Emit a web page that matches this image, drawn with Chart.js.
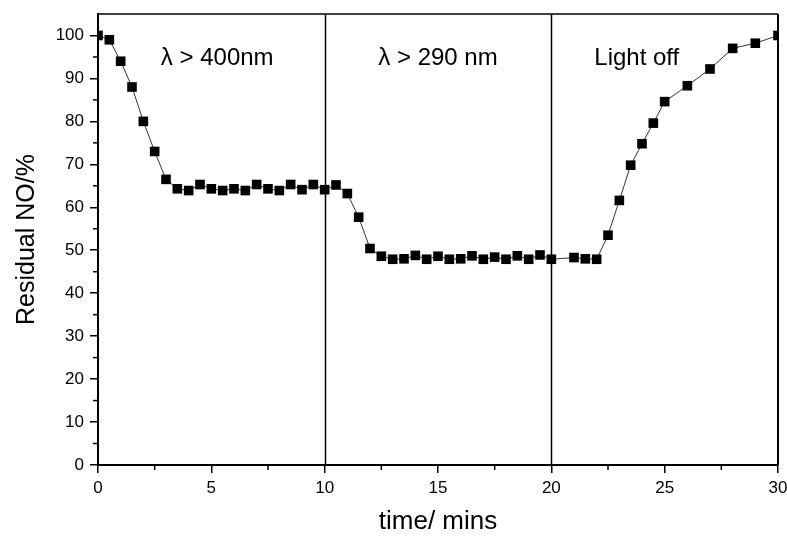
<!DOCTYPE html>
<html>
<head>
<meta charset="utf-8">
<script src="https://cdn.jsdelivr.net/npm/chart.js@4/dist/chart.umd.min.js"></script>
<style>
  html, body { margin: 0; padding: 0; background: #fff; }
  #wrap { width: 787px; height: 537px; }
</style>
</head>
<body>
<div id="wrap"><canvas id="myChart" width="787" height="537"></canvas></div>
<script>
// sampling times (min) and residual NO (%)
var timeMin = [0, 0.5, 1, 1.5, 2, 2.5, 3, 3.5, 4, 4.5, 5, 5.5, 6, 6.5, 7, 7.5, 8, 8.5, 9, 9.5,
               10, 10.5, 11, 11.5, 12, 12.5, 13, 13.5, 14, 14.5, 15, 15.5, 16, 16.5, 17, 17.5, 18, 18.5, 19, 19.5,
               20, 21, 21.5, 22, 22.5, 23, 23.5, 24, 24.5, 25, 26, 27, 28, 29, 30];
var residualNO = [100, 99, 94, 88, 80, 73, 66.5, 64.3, 63.9, 65.3, 64.3, 63.9, 64.3, 63.9, 65.3, 64.3, 63.9, 65.3, 64.1, 65.3,
                  64.1, 65.2, 63.2, 57.7, 50.4, 48.6, 47.9, 48.0, 48.8, 47.9, 48.6, 47.9, 48.0, 48.7, 47.9, 48.4, 47.9, 48.7, 47.9, 48.9,
                  47.9, 48.3, 48.0, 47.9, 53.5, 61.6, 69.8, 74.8, 79.6, 84.6, 88.3, 92.2, 97.0, 98.2, 100];

// light switching times and region labels
var switchTimes = [10, 20];
var phaseLabels = ["\u03bb > 400nm", "\u03bb > 290 nm", "Light off"];
var phaseLabelX = [5.26, 15, 23.77];
var phaseLabelY = [94.6, 94.6, 94.6];

var xMinorTicks = [2.5, 7.5, 12.5, 17.5, 22.5, 27.5];
var yMinorTicks = [5, 15, 25, 35, 45, 55, 65, 75, 85, 95];

var points = timeMin.map(function(t, i){ return {x: t, y: residualNO[i]}; });

var FONT = "'Liberation Sans', Arial, sans-serif";

// frame, minor ticks, switch lines and phase labels
var extras = {
  id: 'extras',
  beforeDatasetsDraw: function(chart){
    var ctx = chart.ctx, a = chart.chartArea;
    var xs = chart.scales.x;
    ctx.save();
    ctx.strokeStyle = '#000';
    ctx.lineWidth = 1.5;
    switchTimes.forEach(function(t){
      var px = Math.round(xs.getPixelForValue(t)) + 0.5;
      ctx.beginPath();
      ctx.moveTo(px, a.top);
      ctx.lineTo(px, a.bottom);
      ctx.stroke();
    });
    ctx.restore();
  },
  afterDraw: function(chart){
    var ctx = chart.ctx, a = chart.chartArea;
    var xs = chart.scales.x, ys = chart.scales.y;
    ctx.save();
    ctx.strokeStyle = '#000';
    // top and right edges
    ctx.lineWidth = 1.5;
    ctx.beginPath();
    ctx.moveTo(a.left, a.top);
    ctx.lineTo(a.right, a.top);
    ctx.stroke();
    ctx.lineWidth = 2;
    ctx.beginPath();
    ctx.moveTo(a.right, a.top);
    ctx.lineTo(a.right, a.bottom);
    ctx.stroke();

    ctx.lineWidth = 1.5;
    xMinorTicks.forEach(function(v){
      var px = xs.getPixelForValue(v);
      ctx.beginPath();
      ctx.moveTo(px, a.bottom);
      ctx.lineTo(px, a.bottom + 5);
      ctx.stroke();
    });
    yMinorTicks.forEach(function(v){
      var py = ys.getPixelForValue(v);
      ctx.beginPath();
      ctx.moveTo(a.left, py);
      ctx.lineTo(a.left - 5, py);
      ctx.stroke();
    });

    ctx.fillStyle = '#000';
    ctx.font = '24px ' + FONT;
    ctx.textAlign = 'center';
    ctx.textBaseline = 'middle';
    phaseLabels.forEach(function(txt, i){
      ctx.fillText(txt, xs.getPixelForValue(phaseLabelX[i]), ys.getPixelForValue(phaseLabelY[i]));
    });
    ctx.restore();
  }
};

new Chart(document.getElementById('myChart'), {
  type: 'scatter',
  data: {
    datasets: [{
      label: 'Residual NO',
      data: points,
      showLine: true,
      borderColor: '#333',
      borderWidth: 1,
      pointStyle: 'rect',
      pointRadius: 6.8,
      pointHoverRadius: 6.8,
      pointBackgroundColor: '#000',
      pointBorderWidth: 0
    }]
  },
  options: {
    responsive: false,
    animation: false,
    layout: { padding: { top: 14, right: 9, left: 0, bottom: 0 } },
    plugins: { legend: { display: false }, tooltip: { enabled: false } },
    scales: {
      x: {
        type: 'linear',
        min: 0, max: 30,
        ticks: { stepSize: 5, color: '#000', font: { size: 17, family: FONT }, padding: 5, maxRotation: 0 },
        grid: { drawOnChartArea: false, drawTicks: true, tickLength: 8, color: '#000', lineWidth: 1.5 },
        border: { display: true, color: '#000', width: 2 },
        title: { display: true, text: 'time/ mins', color: '#000', font: { size: 26, family: FONT }, padding: { top: 0, bottom: 0 } },
        afterFit: function(s){ s.height = 72; s.paddingLeft = 0; s.paddingRight = 0; }
      },
      y: {
        min: 0, max: 105,
        afterBuildTicks: function(s){ s.ticks = s.ticks.filter(function(t){ return t.value % 10 === 0; }); },
        ticks: { stepSize: 10, color: '#000', font: { size: 17, family: FONT }, padding: 6 },
        grid: { drawOnChartArea: false, drawTicks: true, tickLength: 8, color: '#000', lineWidth: 1.5 },
        border: { display: true, color: '#000', width: 2 },
        title: { display: true, text: 'Residual NO/%', color: '#000', font: { size: 25, family: FONT }, padding: { top: 12, bottom: 0 } },
        afterFit: function(s){ s.width = 98; s.paddingTop = 0; s.paddingBottom = 0; }
      }
    }
  },
  plugins: [extras]
});
</script>
</body>
</html>
